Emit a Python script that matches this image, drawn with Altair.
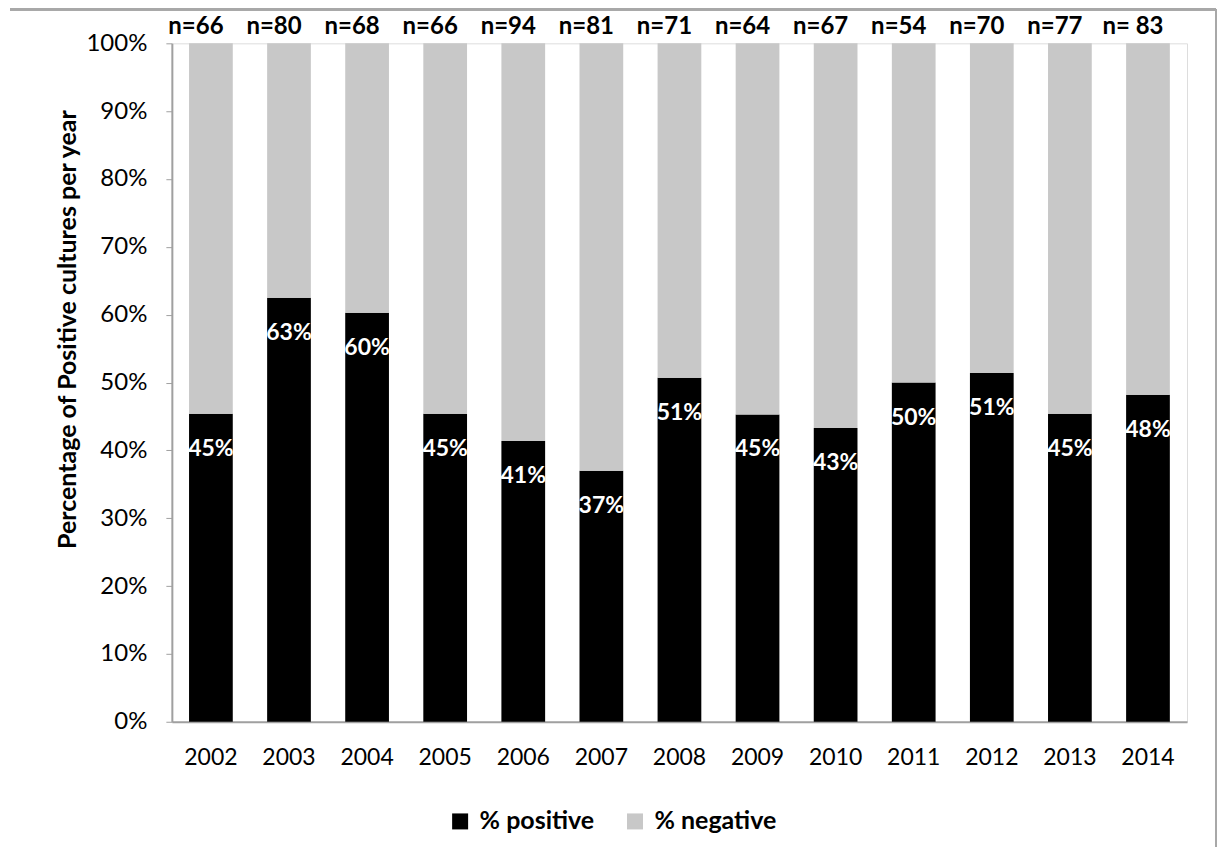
import altair as alt
import pandas as pd

years = ["2002", "2003", "2004", "2005", "2006", "2007", "2008",
         "2009", "2010", "2011", "2012", "2013", "2014"]
positive_pct = [45.4, 62.5, 60.3, 45.4, 41.4, 37.0, 50.7, 45.3, 43.3, 50.0, 51.4, 45.4, 48.2]
n_labels = ["n=66", "n=80", "n=68", "n=66", "n=94", "n=81", "n=71",
            "n=64", "n=67", "n=54", "n=70", "n=77", "n= 83"]
series = ["% positive", "% negative"]
series_colors = ["#000000", "#c8c8c8"]

FONT = "Lato"

rows = []
for y, p in zip(years, positive_pct):
    rows.append({"year": y, "series": series[0], "ord": 0, "value": p / 100})
    rows.append({"year": y, "series": series[1], "ord": 1, "value": (100 - p) / 100})
df = pd.DataFrame(rows)

lab = pd.DataFrame({"year": years, "pos": [p / 100 for p in positive_pct], "n": n_labels, "top": [1.0] * len(years)})

xenc = alt.X("year:N", sort=years, title=None,
             scale=alt.Scale(paddingInner=0.44, paddingOuter=0.22),
             axis=alt.Axis(labelAngle=0, labelFont=FONT, labelFontSize=23, labelColor="#000000",
                           labelPadding=25, ticks=False, domainColor="#a0a0a0", domainWidth=2))

bars = alt.Chart(df).mark_bar(stroke=None).encode(
    x=xenc,
    y=alt.Y("value:Q", stack="zero", title="Percentage of Positive cultures per year",
            scale=alt.Scale(domain=[0, 1]),
            axis=alt.Axis(format=".0%", values=[i / 10 for i in range(11)], grid=False,
                          labelFont=FONT, labelFontSize=24, labelColor="#000000", labelPadding=19,
                          tickSize=6, tickColor="#a0a0a0", domainColor="#a0a0a0", domainWidth=2,
                          titleFont=FONT, titleFontSize=25, titleFontWeight="bold", titleColor="#000000",
                          titleX=-104, titleY=286, titleBaseline="middle", titleAlign="center")),
    color=alt.Color("series:N", scale=alt.Scale(domain=series, range=series_colors),
                    legend=alt.Legend(title=None, orient="none", direction="horizontal",
                                      legendX=276, legendY=766, symbolType="square", symbolSize=256,
                                      symbolStrokeWidth=0, labelFont=FONT, labelFontSize=25,
                                      labelFontWeight="bold", labelColor="#000000",
                                      columnPadding=28, labelOffset=7)),
    order=alt.Order("ord:Q", sort="ascending"),
)

pct = alt.Chart(lab).mark_text(font=FONT, fontSize=23, fontWeight="bold", color="#ffffff",
                               baseline="middle", dy=35).encode(
    x=alt.X("year:N", sort=years),
    y=alt.Y("pos:Q"),
    text=alt.Text("pos:Q", format=".0%"),
)

ntxt = alt.Chart(lab).mark_text(font=FONT, fontSize=24, fontWeight="bold", color="#000000",
                                baseline="middle", dy=-16, dx=-15).encode(
    x=alt.X("year:N", sort=years),
    y=alt.Y("top:Q"),
    text="n:N",
)

border_top = alt.Chart(lab).mark_rule(color="#a8a8a8", strokeWidth=2).encode(
    x=alt.value(-162), x2=alt.value(1045), y=alt.value(-34))
border_right = alt.Chart(lab).mark_rule(color="#a8a8a8", strokeWidth=2).encode(
    x=alt.value(1045), y=alt.value(-34), y2=alt.value(804))

chart = alt.layer(bars, pct, ntxt, border_top, border_right).properties(
    width=1016, height=679,
    autosize=alt.AutoSizeParams(type="none"),
    padding={"left": 164, "top": 35, "right": 30, "bottom": 125},
).configure_view(stroke=None).configure(background="#ffffff")

chart.save("out.html", embed_options={"renderer": "svg", "actions": False})
